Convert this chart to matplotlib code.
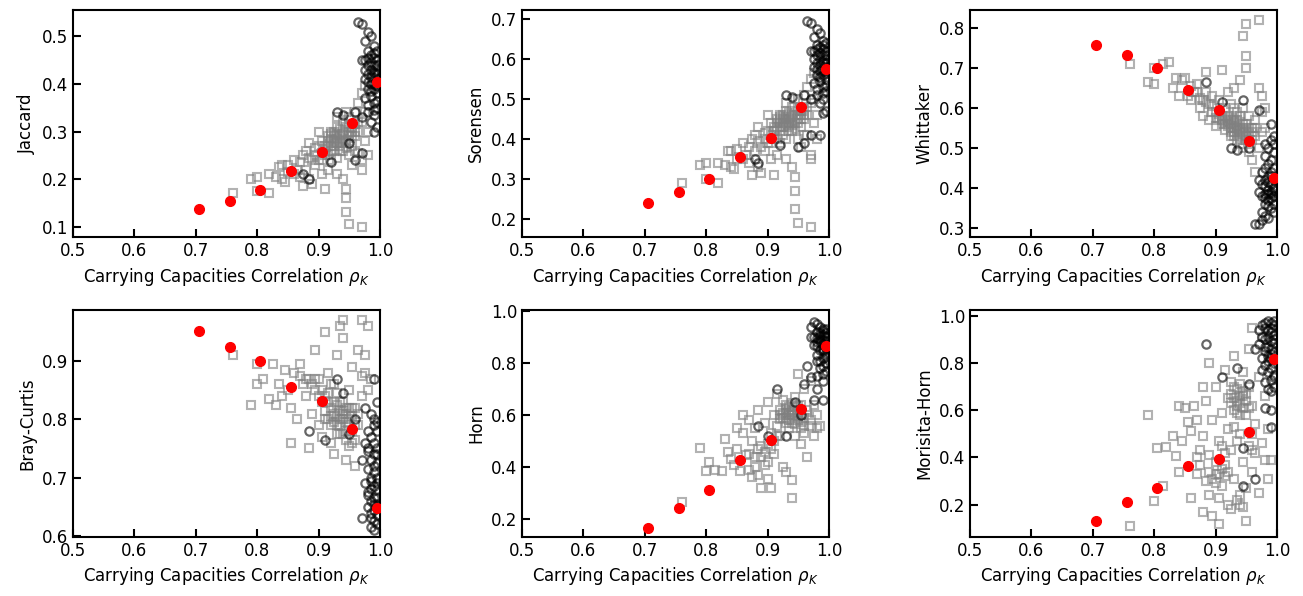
import numpy as np
import matplotlib
matplotlib.use('Agg')
import matplotlib.pyplot as plt

# mean values (red dots)
rho = [0.705, 0.755, 0.805, 0.855, 0.905, 0.955, 0.995]

jac_mean = [0.137, 0.155, 0.178, 0.218, 0.256, 0.317, 0.404]
sor_mean = [0.240, 0.266, 0.299, 0.354, 0.403, 0.480, 0.574]
whi_mean = [0.758, 0.732, 0.700, 0.645, 0.596, 0.519, 0.426]
bc_mean = [0.952, 0.925, 0.901, 0.855, 0.832, 0.784, 0.647]
horn_mean = [0.167, 0.241, 0.313, 0.429, 0.505, 0.624, 0.866]
mh_mean = [0.132, 0.210, 0.269, 0.365, 0.395, 0.506, 0.819]

# gray squares (individual runs)
jac_sq = [(0.76, 0.17), (0.79, 0.20), (0.80, 0.205), (0.80, 0.175), (0.82, 0.17), (0.82, 0.21),
          (0.83, 0.205), (0.835, 0.225), (0.84, 0.20), (0.845, 0.195), (0.85, 0.215), (0.85, 0.23),
          (0.86, 0.24), (0.865, 0.22), (0.87, 0.235), (0.875, 0.25), (0.88, 0.26), (0.88, 0.22),
          (0.885, 0.275), (0.89, 0.19), (0.89, 0.24), (0.895, 0.23), (0.90, 0.27), (0.90, 0.24),
          (0.905, 0.28), (0.91, 0.18), (0.91, 0.25), (0.915, 0.29), (0.915, 0.22), (0.92, 0.27),
          (0.92, 0.30), (0.925, 0.26), (0.925, 0.28), (0.93, 0.21), (0.93, 0.31), (0.935, 0.29),
          (0.935, 0.27), (0.94, 0.20), (0.94, 0.30), (0.94, 0.32), (0.945, 0.16), (0.945, 0.13),
          (0.945, 0.18), (0.945, 0.28), (0.95, 0.105), (0.95, 0.30), (0.95, 0.33), (0.955, 0.27),
          (0.955, 0.31), (0.96, 0.29), (0.96, 0.34), (0.96, 0.26), (0.965, 0.36), (0.965, 0.30),
          (0.97, 0.38), (0.97, 0.32), (0.97, 0.24), (0.97, 0.22), (0.97, 0.10), (0.975, 0.395),
          (0.975, 0.28), (0.975, 0.34), (0.98, 0.30), (0.98, 0.25), (0.965, 0.255), (0.93, 0.245),
          (0.91, 0.26), (0.92, 0.24), (0.94, 0.26), (0.95, 0.25), (0.955, 0.23), (0.905, 0.21),
          (0.885, 0.20), (0.86, 0.21), (0.84, 0.23), (0.875, 0.185), (0.87, 0.205), (0.90, 0.30),
          (0.93, 0.33), (0.945, 0.34), (0.96, 0.315), (0.935, 0.28), (0.925, 0.30), (0.915, 0.27),
          (0.905, 0.255), (0.93, 0.295), (0.94, 0.285), (0.95, 0.29), (0.92, 0.285), (0.895, 0.25),
          (0.925, 0.29), (0.93, 0.275), (0.935, 0.305), (0.94, 0.295), (0.945, 0.31), (0.945, 0.265),
          (0.95, 0.315), (0.955, 0.29), (0.935, 0.26), (0.925, 0.27), (0.915, 0.28), (0.92, 0.26),
          (0.91, 0.27), (0.94, 0.275), (0.95, 0.28), (0.955, 0.30), (0.96, 0.30), (0.965, 0.32),
          (0.93, 0.285), (0.92, 0.295), (0.905, 0.24), (0.915, 0.25), (0.895, 0.265), (0.885, 0.245)]
sor_sq = [(0.76, 0.29), (0.79, 0.335), (0.80, 0.34), (0.80, 0.30), (0.82, 0.29), (0.82, 0.34),
          (0.83, 0.335), (0.835, 0.37), (0.84, 0.33), (0.845, 0.325), (0.85, 0.35), (0.85, 0.375),
          (0.86, 0.39), (0.865, 0.36), (0.87, 0.38), (0.875, 0.40), (0.88, 0.41), (0.88, 0.37),
          (0.885, 0.43), (0.89, 0.315), (0.89, 0.38), (0.895, 0.37), (0.90, 0.42), (0.90, 0.39),
          (0.905, 0.44), (0.91, 0.31), (0.91, 0.40), (0.915, 0.45), (0.915, 0.36), (0.92, 0.43),
          (0.92, 0.46), (0.925, 0.41), (0.925, 0.44), (0.93, 0.35), (0.93, 0.47), (0.935, 0.45),
          (0.935, 0.43), (0.94, 0.33), (0.94, 0.46), (0.94, 0.48), (0.945, 0.27), (0.945, 0.225),
          (0.945, 0.305), (0.945, 0.44), (0.95, 0.19), (0.95, 0.46), (0.95, 0.50), (0.955, 0.43),
          (0.955, 0.47), (0.96, 0.45), (0.96, 0.51), (0.96, 0.41), (0.965, 0.53), (0.965, 0.46),
          (0.97, 0.55), (0.97, 0.49), (0.97, 0.36), (0.97, 0.35), (0.97, 0.18), (0.975, 0.565),
          (0.975, 0.44), (0.975, 0.50), (0.98, 0.46), (0.98, 0.40), (0.965, 0.41), (0.93, 0.40),
          (0.91, 0.42), (0.92, 0.39), (0.94, 0.42), (0.95, 0.40), (0.955, 0.38), (0.905, 0.35),
          (0.885, 0.33), (0.86, 0.35), (0.84, 0.37), (0.875, 0.31), (0.87, 0.34), (0.90, 0.46),
          (0.93, 0.49), (0.945, 0.50), (0.96, 0.475), (0.935, 0.44), (0.925, 0.46), (0.915, 0.425),
          (0.905, 0.41), (0.93, 0.455), (0.94, 0.445), (0.95, 0.45), (0.92, 0.445), (0.895, 0.40),
          (0.925, 0.45), (0.93, 0.435), (0.935, 0.465), (0.94, 0.455), (0.945, 0.47), (0.945, 0.425),
          (0.95, 0.475), (0.955, 0.45), (0.935, 0.42), (0.925, 0.43), (0.915, 0.44), (0.92, 0.42),
          (0.91, 0.43), (0.94, 0.435), (0.95, 0.44), (0.955, 0.46), (0.96, 0.46), (0.965, 0.48),
          (0.93, 0.445), (0.92, 0.455), (0.905, 0.39), (0.915, 0.40), (0.895, 0.415), (0.885, 0.395)]
whi_sq = [(0.76, 0.71), (0.79, 0.665), (0.80, 0.66), (0.80, 0.70), (0.815, 0.71), (0.825, 0.715),
          (0.83, 0.65), (0.835, 0.675), (0.84, 0.63), (0.845, 0.67), (0.85, 0.675), (0.855, 0.63),
          (0.86, 0.62), (0.865, 0.64), (0.87, 0.66), (0.875, 0.60), (0.875, 0.625), (0.88, 0.58),
          (0.885, 0.69), (0.885, 0.64), (0.89, 0.61), (0.89, 0.57), (0.895, 0.63), (0.90, 0.59),
          (0.90, 0.555), (0.905, 0.62), (0.91, 0.695), (0.91, 0.58), (0.915, 0.545), (0.915, 0.60),
          (0.92, 0.565), (0.92, 0.64), (0.925, 0.53), (0.925, 0.57), (0.93, 0.55), (0.93, 0.65),
          (0.935, 0.52), (0.935, 0.59), (0.94, 0.54), (0.94, 0.67), (0.945, 0.78), (0.945, 0.56),
          (0.945, 0.50), (0.95, 0.81), (0.95, 0.73), (0.95, 0.70), (0.95, 0.53), (0.955, 0.55),
          (0.955, 0.49), (0.96, 0.47), (0.96, 0.52), (0.965, 0.57), (0.965, 0.44), (0.97, 0.82),
          (0.97, 0.65), (0.97, 0.50), (0.975, 0.63), (0.975, 0.54), (0.975, 0.59), (0.98, 0.60),
          (0.98, 0.55), (0.93, 0.60), (0.92, 0.58), (0.94, 0.58), (0.91, 0.56), (0.905, 0.57),
          (0.895, 0.59), (0.925, 0.61), (0.935, 0.57), (0.955, 0.58), (0.96, 0.55), (0.945, 0.60),
          (0.88, 0.62), (0.87, 0.64), (0.86, 0.655), (0.95, 0.52), (0.94, 0.51), (0.925, 0.55),
          (0.915, 0.575), (0.935, 0.545), (0.945, 0.535), (0.93, 0.575), (0.955, 0.52), (0.965, 0.53),
          (0.92, 0.555), (0.925, 0.54), (0.93, 0.565), (0.935, 0.555), (0.94, 0.565), (0.94, 0.525),
          (0.945, 0.55), (0.95, 0.545), (0.935, 0.535), (0.925, 0.56), (0.915, 0.56), (0.93, 0.53),
          (0.91, 0.57), (0.94, 0.55), (0.95, 0.56), (0.955, 0.535), (0.96, 0.54), (0.965, 0.55),
          (0.93, 0.54), (0.92, 0.57), (0.905, 0.585), (0.9, 0.575), (0.895, 0.605), (0.885, 0.615)]
bc_sq = [(0.76, 0.91), (0.79, 0.825), (0.80, 0.895), (0.80, 0.86), (0.81, 0.87), (0.82, 0.835),
         (0.825, 0.895), (0.83, 0.825), (0.835, 0.86), (0.84, 0.84), (0.845, 0.885), (0.85, 0.85),
         (0.855, 0.76), (0.855, 0.82), (0.86, 0.88), (0.865, 0.80), (0.87, 0.895), (0.875, 0.86),
         (0.88, 0.84), (0.885, 0.87), (0.885, 0.75), (0.89, 0.81), (0.895, 0.92), (0.895, 0.85),
         (0.90, 0.79), (0.90, 0.87), (0.905, 0.77), (0.91, 0.84), (0.91, 0.95), (0.915, 0.80),
         (0.915, 0.88), (0.92, 0.76), (0.92, 0.82), (0.925, 0.86), (0.925, 0.74), (0.93, 0.91),
         (0.93, 0.79), (0.935, 0.83), (0.935, 0.96), (0.94, 0.97), (0.94, 0.94), (0.94, 0.81),
         (0.945, 0.73), (0.945, 0.78), (0.95, 0.85), (0.95, 0.80), (0.955, 0.76), (0.955, 0.89),
         (0.96, 0.82), (0.96, 0.72), (0.965, 0.92), (0.965, 0.79), (0.97, 0.97), (0.97, 0.84),
         (0.975, 0.91), (0.975, 0.88), (0.98, 0.96), (0.98, 0.85), (0.985, 0.87), (0.905, 0.83),
         (0.925, 0.81), (0.935, 0.80), (0.945, 0.82), (0.955, 0.805), (0.915, 0.845), (0.93, 0.845),
         (0.94, 0.775), (0.95, 0.755), (0.96, 0.765), (0.92, 0.79), (0.91, 0.815), (0.89, 0.86),
         (0.935, 0.815), (0.945, 0.795), (0.925, 0.83), (0.94, 0.83), (0.95, 0.82), (0.93, 0.775),
         (0.93, 0.805), (0.935, 0.79), (0.94, 0.80), (0.945, 0.81), (0.95, 0.79), (0.955, 0.78),
         (0.925, 0.795), (0.92, 0.805), (0.93, 0.825), (0.94, 0.815), (0.945, 0.765), (0.935, 0.775),
         (0.96, 0.79), (0.955, 0.82), (0.915, 0.83), (0.91, 0.80), (0.905, 0.85), (0.92, 0.86),
         (0.90, 0.84), (0.895, 0.87), (0.88, 0.87), (0.87, 0.875), (0.965, 0.81), (0.97, 0.875)]
horn_sq = [(0.76, 0.265), (0.79, 0.475), (0.80, 0.385), (0.805, 0.42), (0.815, 0.39), (0.825, 0.385),
           (0.83, 0.51), (0.835, 0.46), (0.84, 0.43), (0.845, 0.41), (0.85, 0.47), (0.85, 0.55),
           (0.855, 0.385), (0.86, 0.53), (0.86, 0.60), (0.865, 0.445), (0.87, 0.58), (0.87, 0.39),
           (0.875, 0.36), (0.875, 0.50), (0.88, 0.55), (0.88, 0.44), (0.885, 0.62), (0.885, 0.37),
           (0.89, 0.32), (0.89, 0.48), (0.895, 0.57), (0.895, 0.41), (0.90, 0.65), (0.90, 0.355),
           (0.905, 0.32), (0.905, 0.53), (0.91, 0.60), (0.91, 0.45), (0.915, 0.56), (0.915, 0.68),
           (0.92, 0.62), (0.92, 0.52), (0.925, 0.40), (0.925, 0.66), (0.93, 0.59), (0.93, 0.38),
           (0.935, 0.63), (0.935, 0.55), (0.94, 0.28), (0.94, 0.35), (0.94, 0.60), (0.945, 0.67),
           (0.945, 0.52), (0.95, 0.58), (0.95, 0.76), (0.955, 0.64), (0.955, 0.49), (0.96, 0.70),
           (0.96, 0.56), (0.965, 0.62), (0.965, 0.44), (0.97, 0.73), (0.97, 0.58), (0.975, 0.52),
           (0.975, 0.64), (0.98, 0.55), (0.98, 0.60), (0.985, 0.56), (0.925, 0.61), (0.93, 0.57),
           (0.94, 0.62), (0.945, 0.59), (0.935, 0.60), (0.95, 0.61), (0.92, 0.585), (0.91, 0.50),
           (0.90, 0.49), (0.89, 0.44), (0.88, 0.40), (0.93, 0.64), (0.94, 0.57), (0.955, 0.60),
           (0.93, 0.61), (0.935, 0.58), (0.94, 0.61), (0.945, 0.63), (0.95, 0.595), (0.955, 0.575),
           (0.925, 0.59), (0.92, 0.60), (0.93, 0.625), (0.94, 0.645), (0.945, 0.565), (0.935, 0.615),
           (0.96, 0.59), (0.965, 0.60), (0.95, 0.635), (0.955, 0.55), (0.96, 0.53), (0.97, 0.56),
           (0.915, 0.52), (0.905, 0.47), (0.895, 0.46), (0.90, 0.42), (0.885, 0.47), (0.87, 0.45)]
mh_sq = [(0.76, 0.11), (0.79, 0.58), (0.80, 0.215), (0.805, 0.44), (0.815, 0.28), (0.82, 0.445),
         (0.83, 0.49), (0.835, 0.405), (0.84, 0.34), (0.84, 0.62), (0.845, 0.47), (0.85, 0.61),
         (0.855, 0.55), (0.86, 0.51), (0.86, 0.23), (0.865, 0.62), (0.87, 0.33), (0.87, 0.56),
         (0.875, 0.43), (0.875, 0.37), (0.88, 0.17), (0.88, 0.49), (0.88, 0.70), (0.885, 0.30),
         (0.885, 0.64), (0.89, 0.80), (0.89, 0.41), (0.89, 0.24), (0.895, 0.56), (0.895, 0.15),
         (0.90, 0.33), (0.90, 0.70), (0.905, 0.47), (0.905, 0.12), (0.91, 0.59), (0.91, 0.28),
         (0.915, 0.77), (0.915, 0.37), (0.92, 0.65), (0.92, 0.52), (0.92, 0.20), (0.925, 0.72),
         (0.925, 0.43), (0.93, 0.60), (0.93, 0.31), (0.93, 0.83), (0.935, 0.69), (0.935, 0.22),
         (0.94, 0.50), (0.94, 0.66), (0.945, 0.76), (0.945, 0.38), (0.95, 0.58), (0.95, 0.13),
         (0.95, 0.27), (0.955, 0.45), (0.955, 0.86), (0.96, 0.95), (0.96, 0.62), (0.96, 0.34),
         (0.965, 0.54), (0.965, 0.42), (0.97, 0.25), (0.97, 0.74), (0.975, 0.46), (0.975, 0.91),
         (0.98, 0.39), (0.98, 0.66), (0.985, 0.31), (0.985, 0.52), (0.99, 0.39), (0.935, 0.64),
         (0.94, 0.58), (0.925, 0.67), (0.945, 0.61), (0.93, 0.53), (0.915, 0.42), (0.90, 0.38),
         (0.89, 0.34), (0.905, 0.23), (0.925, 0.18), (0.94, 0.20), (0.87, 0.40), (0.96, 0.50),
         (0.955, 0.70), (0.92, 0.34), (0.91, 0.45), (0.935, 0.47), (0.945, 0.66), (0.93, 0.70),
         (0.935, 0.62), (0.94, 0.63), (0.93, 0.65), (0.945, 0.68), (0.94, 0.71), (0.95, 0.64),
         (0.935, 0.59), (0.925, 0.63), (0.95, 0.67), (0.955, 0.61), (0.905, 0.33), (0.91, 0.35),
         (0.895, 0.31), (0.90, 0.29), (0.915, 0.32), (0.94, 0.24), (0.945, 0.19), (0.96, 0.43)]

# dark circles (high correlation runs)
jac_ci = [(0.965, 0.53), (0.97, 0.525), (0.98, 0.51), (0.985, 0.50), (0.975, 0.49), (0.99, 0.48),
          (0.98, 0.47), (0.995, 0.47), (0.985, 0.46), (0.99, 0.455), (0.975, 0.45), (0.995, 0.45),
          (0.98, 0.44), (0.99, 0.44), (0.985, 0.43), (0.995, 0.43), (0.98, 0.42), (0.99, 0.42),
          (0.975, 0.41), (0.995, 0.41), (0.985, 0.40), (0.98, 0.39), (0.99, 0.39), (0.995, 0.38),
          (0.985, 0.375), (0.975, 0.37), (0.99, 0.36), (0.995, 0.35), (0.98, 0.34), (0.99, 0.335),
          (0.985, 0.32), (0.995, 0.31), (0.99, 0.30), (0.97, 0.33), (0.96, 0.34), (0.94, 0.335),
          (0.93, 0.34), (0.97, 0.255), (0.96, 0.24), (0.95, 0.275), (0.885, 0.20), (0.875, 0.21),
          (0.92, 0.235), (0.99, 0.465), (0.985, 0.445), (0.995, 0.44), (0.99, 0.425), (0.985, 0.415),
          (0.995, 0.42), (0.975, 0.43), (0.98, 0.455), (0.97, 0.45), (0.99, 0.40), (0.995, 0.395),
          (0.98, 0.405), (0.985, 0.385), (0.995, 0.365), (0.98, 0.355), (0.99, 0.345)]
sor_ci = [(0.965, 0.695), (0.97, 0.69), (0.98, 0.675), (0.985, 0.665), (0.975, 0.655), (0.99, 0.645),
          (0.98, 0.635), (0.995, 0.64), (0.985, 0.63), (0.99, 0.625), (0.975, 0.62), (0.995, 0.62),
          (0.98, 0.61), (0.99, 0.61), (0.985, 0.60), (0.995, 0.60), (0.98, 0.59), (0.99, 0.59),
          (0.975, 0.58), (0.995, 0.58), (0.985, 0.57), (0.98, 0.56), (0.99, 0.56), (0.995, 0.55),
          (0.985, 0.545), (0.975, 0.54), (0.99, 0.53), (0.995, 0.52), (0.98, 0.51), (0.99, 0.50),
          (0.985, 0.49), (0.995, 0.47), (0.99, 0.465), (0.97, 0.50), (0.96, 0.51), (0.94, 0.505),
          (0.93, 0.51), (0.97, 0.41), (0.96, 0.39), (0.95, 0.38), (0.885, 0.34), (0.88, 0.35),
          (0.92, 0.385), (0.99, 0.635), (0.985, 0.615), (0.995, 0.61), (0.99, 0.595), (0.985, 0.585),
          (0.995, 0.59), (0.975, 0.60), (0.98, 0.625), (0.97, 0.62), (0.99, 0.57), (0.995, 0.565),
          (0.98, 0.575), (0.985, 0.555), (0.995, 0.535), (0.98, 0.525), (0.99, 0.515), (0.985, 0.41)]
whi_ci = [(0.965, 0.31), (0.97, 0.31), (0.975, 0.32), (0.98, 0.33), (0.985, 0.325), (0.975, 0.34),
          (0.99, 0.35), (0.98, 0.36), (0.995, 0.36), (0.985, 0.37), (0.99, 0.375), (0.975, 0.38),
          (0.995, 0.38), (0.98, 0.385), (0.99, 0.39), (0.985, 0.395), (0.995, 0.40), (0.98, 0.405),
          (0.99, 0.41), (0.995, 0.42), (0.985, 0.43), (0.99, 0.44), (0.98, 0.45), (0.995, 0.45),
          (0.985, 0.46), (0.99, 0.47), (0.98, 0.48), (0.995, 0.49), (0.985, 0.50), (0.99, 0.52),
          (0.995, 0.53), (0.98, 0.51), (0.97, 0.42), (0.975, 0.44), (0.97, 0.39), (0.985, 0.355),
          (0.995, 0.34), (0.99, 0.43), (0.98, 0.42), (0.985, 0.415), (0.99, 0.385), (0.995, 0.395),
          (0.975, 0.41), (0.98, 0.375), (0.885, 0.665), (0.91, 0.615), (0.945, 0.62), (0.97, 0.595),
          (0.925, 0.50), (0.935, 0.495), (0.955, 0.50), (0.99, 0.56), (0.995, 0.51), (0.985, 0.385)]
bc_ci = [(0.885, 0.78), (0.91, 0.765), (0.94, 0.845), (0.93, 0.87), (0.97, 0.73), (0.975, 0.69),
         (0.98, 0.67), (0.97, 0.63), (0.95, 0.775), (0.96, 0.80), (0.975, 0.82), (0.99, 0.87),
         (0.995, 0.83), (0.985, 0.81), (0.99, 0.79), (0.995, 0.78), (0.985, 0.77), (0.99, 0.76),
         (0.995, 0.75), (0.98, 0.745), (0.99, 0.74), (0.985, 0.73), (0.995, 0.725), (0.98, 0.715),
         (0.99, 0.71), (0.995, 0.70), (0.985, 0.695), (0.99, 0.685), (0.995, 0.68), (0.98, 0.675),
         (0.99, 0.665), (0.985, 0.66), (0.995, 0.655), (0.99, 0.645), (0.985, 0.64), (0.995, 0.635),
         (0.99, 0.625), (0.995, 0.62), (0.985, 0.615), (0.99, 0.61), (0.98, 0.75), (0.975, 0.76),
         (0.985, 0.70), (0.99, 0.72), (0.995, 0.69), (0.98, 0.65), (0.985, 0.63), (0.995, 0.665),
         (0.99, 0.655), (0.985, 0.68), (0.995, 0.74), (0.99, 0.80), (0.98, 0.78), (0.995, 0.795)]
horn_ci = [(0.915, 0.70), (0.885, 0.56), (0.90, 0.52), (0.945, 0.65), (0.96, 0.72), (0.965, 0.79),
           (0.975, 0.66), (0.99, 0.66), (0.98, 0.70), (0.93, 0.52), (0.955, 0.60), (0.97, 0.94),
           (0.975, 0.96), (0.98, 0.95), (0.985, 0.94), (0.99, 0.93), (0.995, 0.93), (0.98, 0.92),
           (0.985, 0.915), (0.99, 0.91), (0.995, 0.905), (0.975, 0.90), (0.98, 0.895), (0.99, 0.89),
           (0.995, 0.885), (0.985, 0.88), (0.99, 0.87), (0.98, 0.865), (0.995, 0.86), (0.985, 0.85),
           (0.99, 0.845), (0.995, 0.84), (0.98, 0.83), (0.99, 0.82), (0.985, 0.81), (0.995, 0.80),
           (0.99, 0.79), (0.985, 0.78), (0.995, 0.77), (0.99, 0.76), (0.98, 0.75), (0.99, 0.73),
           (0.975, 0.87), (0.97, 0.90), (0.985, 0.905), (0.99, 0.925), (0.995, 0.915), (0.98, 0.88),
           (0.995, 0.875), (0.985, 0.89), (0.99, 0.855), (0.995, 0.825), (0.98, 0.81), (0.97, 0.745)]
mh_ci = [(0.885, 0.88), (0.91, 0.74), (0.935, 0.78), (0.955, 0.71), (0.945, 0.44), (0.945, 0.28),
         (0.965, 0.31), (0.98, 0.61), (0.99, 0.53), (0.99, 0.60), (0.99, 0.68), (0.995, 0.74),
         (0.97, 0.94), (0.975, 0.96), (0.98, 0.97), (0.985, 0.98), (0.99, 0.97), (0.995, 0.96),
         (0.98, 0.95), (0.985, 0.94), (0.99, 0.93), (0.995, 0.92), (0.975, 0.91), (0.98, 0.90),
         (0.99, 0.895), (0.995, 0.885), (0.985, 0.87), (0.99, 0.86), (0.98, 0.85), (0.995, 0.845),
         (0.985, 0.83), (0.99, 0.82), (0.995, 0.80), (0.98, 0.79), (0.99, 0.78), (0.985, 0.76),
         (0.995, 0.75), (0.99, 0.73), (0.98, 0.72), (0.995, 0.70), (0.985, 0.69), (0.97, 0.88),
         (0.965, 0.86), (0.975, 0.77), (0.98, 0.87), (0.985, 0.91), (0.99, 0.95), (0.995, 0.98),
         (0.975, 0.82), (0.99, 0.84), (0.995, 0.90), (0.985, 0.81)]

names = ['Jaccard', 'Sorensen', 'Whittaker', 'Bray-Curtis', 'Horn', 'Morisita-Horn']
means = [jac_mean, sor_mean, whi_mean, bc_mean, horn_mean, mh_mean]
squares = [jac_sq, sor_sq, whi_sq, bc_sq, horn_sq, mh_sq]
circles = [jac_ci, sor_ci, whi_ci, bc_ci, horn_ci, mh_ci]
ylims = [(0.078, 0.555), (0.154, 0.722), (0.278, 0.845),
         (0.598, 0.988), (0.131, 1.005), (0.063, 1.025)]
yticks = [[0.1, 0.2, 0.3, 0.4, 0.5], [0.2, 0.3, 0.4, 0.5, 0.6, 0.7],
          [0.3, 0.4, 0.5, 0.6, 0.7, 0.8], [0.6, 0.7, 0.8, 0.9],
          [0.2, 0.4, 0.6, 0.8, 1.0], [0.2, 0.4, 0.6, 0.8, 1.0]]

fig = plt.figure(figsize=(13.03, 5.96), dpi=100)
lefts = [0.056, 0.4006, 0.7444]
bottoms = [0.602, 0.099]
w, h = 0.2356, 0.381

for i in range(6):
    r, c = divmod(i, 3)
    ax = fig.add_axes([lefts[c], bottoms[r], w, h])
    sx, sy = zip(*squares[i])
    cx, cy = zip(*circles[i])
    ax.plot(sx, sy, 's', mfc='none', mec='gray', mew=1.5, ms=6, alpha=0.6)
    ax.plot(cx, cy, 'o', mfc='none', mec='k', mew=1.6, ms=6, alpha=0.6)
    ax.plot(rho, means[i], 'o', color='red', ms=7, zorder=5)
    ax.set_xlim(0.5, 1.0)
    ax.set_ylim(*ylims[i])
    ax.set_xticks([0.5, 0.6, 0.7, 0.8, 0.9, 1.0])
    ax.set_yticks(yticks[i])
    ax.tick_params(direction='in', length=6, width=1.5, labelsize=12)
    for s in ax.spines.values():
        s.set_linewidth(1.5)
    ax.set_ylabel(names[i], fontsize=12)
    ax.set_xlabel(r'Carrying Capacities Correlation $\rho_K$', fontsize=12)

plt.savefig('out.png', dpi=100)
